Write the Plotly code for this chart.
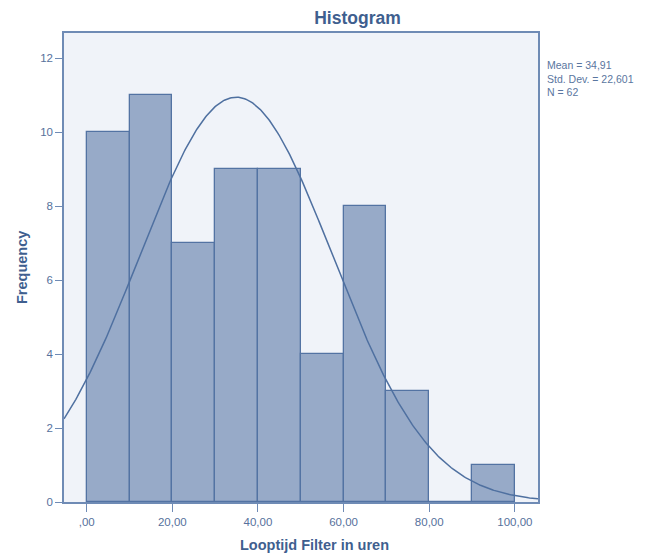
import numpy as np
import plotly.graph_objects as go

# Data
bin_starts = [0, 10, 20, 30, 40, 50, 60, 70, 80, 90]
bin_width = 10
counts = [10, 11, 7, 9, 9, 4, 8, 3, 0, 1]

mean = 34.91
std_dev = 22.601
n = 62

x_ticks = [0, 20, 40, 60, 80, 100]
x_tick_labels = [",00", "20,00", "40,00", "60,00", "80,00", "100,00"]
y_ticks = [0, 2, 4, 6, 8, 10, 12]

x_range = [-5.3, 105.4]
y_range = [0, 12.68]

# Fitted normal curve (defined by the stated mean, std. dev. and N)
xc = np.linspace(x_range[0], x_range[1], 400)
yc = n * bin_width / (std_dev * np.sqrt(2 * np.pi)) * np.exp(-0.5 * ((xc - mean) / std_dev) ** 2)

text_col = "#56719C"
title_col = "#3F5F8F"
axis_col = "#6F8BB5"

# page body has an 8px default margin, so the figure is drawn at (8, 8)
OFF = 8
W, H = 664 - OFF, 554 - OFF
L, R, T, B = 64 - OFF, 126, 33 - OFF, 52
pw, ph = W - L - R, H - T - B


def px(x):
    return (x - OFF - L) / pw


def py(y):
    return (H - B - (y - OFF)) / ph


fig = go.Figure()
fig.add_trace(go.Bar(
    x=[s + bin_width / 2 for s in bin_starts],
    y=counts,
    width=bin_width,
    marker=dict(color="#97AAC8", line=dict(color="#5373A3", width=1.3)),
    hoverinfo="x+y",
))
fig.add_trace(go.Scatter(
    x=xc, y=yc, mode="lines",
    line=dict(color="#4F70A0", width=1.5),
    hoverinfo="skip",
))

fig.update_layout(
    width=W, height=H,
    margin=dict(l=L, r=R, t=T, b=B, autoexpand=False),
    paper_bgcolor="white",
    plot_bgcolor="#F0F3F9",
    showlegend=False,
    bargap=0,
    font=dict(family="Arial, Liberation Sans, sans-serif", color=text_col, size=11),
    title=dict(text="<b>Histogram</b>", xref="container", x=(357.5 - OFF) / W, xanchor="center",
               yref="container", y=1 - (18 - OFF) / H, yanchor="middle",
               font=dict(size=17.5, color=title_col)),
    xaxis=dict(
        range=x_range, tickvals=x_ticks, ticktext=x_tick_labels,
        ticks="outside", ticklen=8, tickcolor=axis_col, tickwidth=1.3,
        showgrid=False, zeroline=False, automargin=False,
        showline=True, linecolor=axis_col, linewidth=1.5, mirror=True,
        tickfont=dict(size=11.5, color=text_col),
    ),
    yaxis=dict(
        range=y_range, tickvals=y_ticks,
        ticks="outside", ticklen=7, tickcolor=axis_col, tickwidth=1.3,
        showgrid=False, zeroline=False, automargin=False,
        showline=True, linecolor=axis_col, linewidth=1.5, mirror=True,
        tickfont=dict(size=11.5, color=text_col),
    ),
    annotations=[
        dict(text="Mean = 34,91<br>Std. Dev. = 22,601<br>N = 62",
             xref="paper", yref="paper", x=px(545), y=py(57),
             xanchor="left", yanchor="top", align="left", showarrow=False,
             font=dict(size=10.5, color="#5A76A0")),
        dict(text="<b>Frequency</b>", textangle=-90,
             xref="paper", yref="paper", x=px(22), y=py(268),
             xanchor="center", yanchor="middle", showarrow=False,
             font=dict(size=14.5, color=title_col)),
        dict(text="<b>Looptijd Filter in uren</b>",
             xref="paper", yref="paper", x=px(314), y=py(545),
             xanchor="center", yanchor="middle", showarrow=False,
             font=dict(size=14.5, color=title_col)),
    ],
)

fig.write_html("out.html")
